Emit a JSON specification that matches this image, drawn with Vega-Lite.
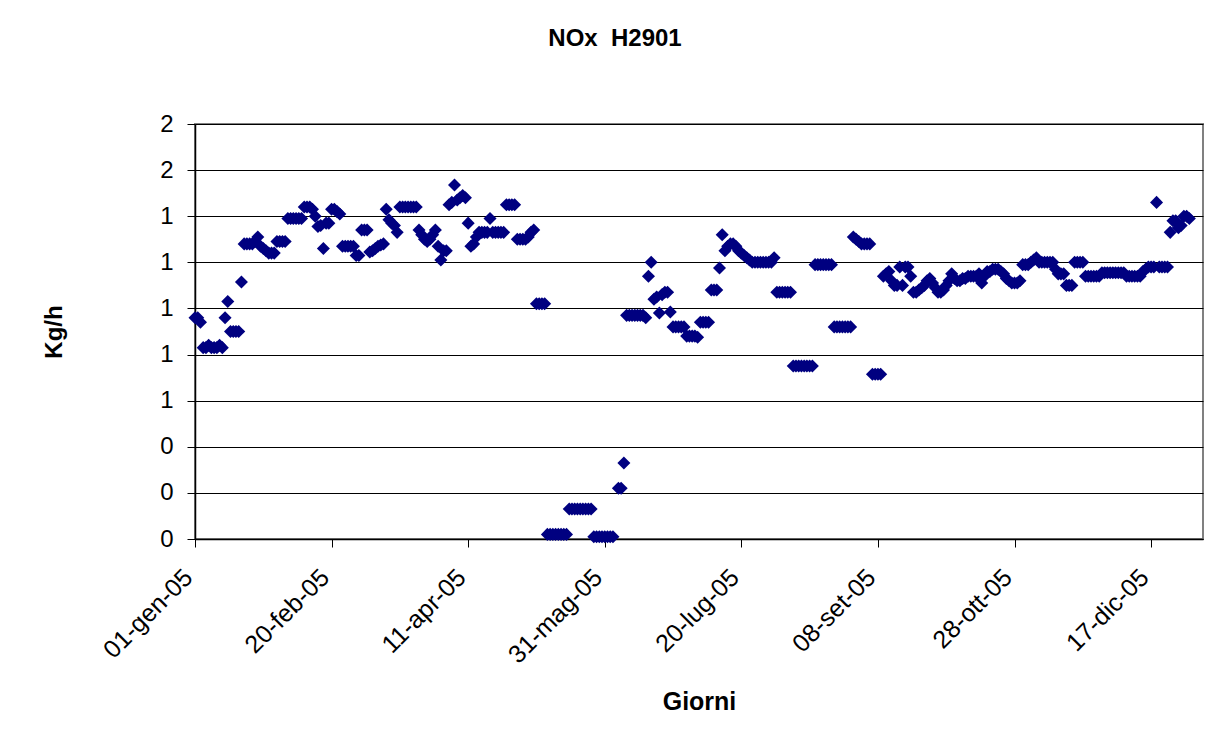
{
  "$schema": "https://vega.github.io/schema/vega-lite/v6.json",
  "width": 1008,
  "height": 415,
  "autosize": {"type": "none"},
  "padding": {"left": 195, "top": 124, "right": 4, "bottom": 204},
  "background": "white",
  "title": {
    "text": "NOx\u00a0\u00a0H2901",
    "font": "Liberation Sans",
    "fontSize": 24,
    "fontWeight": "bold",
    "color": "#000000",
    "anchor": "middle",
    "baseline": "alphabetic",
    "offset": 42,
    "dx": -84
  },
  "data": {
    "format": {"parse": {"d": "utc:'%Y-%m-%d'"}},
    "values": [
      {"d":"2005-01-01","v":0.96},{"d":"2005-01-02","v":0.96},{"d":"2005-01-03","v":0.94},{"d":"2005-01-04","v":0.83},{"d":"2005-01-05","v":0.83},{"d":"2005-01-06","v":0.84},{"d":"2005-01-07","v":0.83},{"d":"2005-01-08","v":0.83},{"d":"2005-01-09","v":0.83},{"d":"2005-01-10","v":0.84},{"d":"2005-01-11","v":0.83},{"d":"2005-01-12","v":0.96},{"d":"2005-01-13","v":1.03},{"d":"2005-01-14","v":0.9},{"d":"2005-01-15","v":0.9},{"d":"2005-01-16","v":0.9},{"d":"2005-01-17","v":0.9},{"d":"2005-01-18","v":1.115},{"d":"2005-01-19","v":1.28},{"d":"2005-01-20","v":1.28},{"d":"2005-01-21","v":1.28},{"d":"2005-01-22","v":1.28},{"d":"2005-01-23","v":1.29},{"d":"2005-01-24","v":1.31},{"d":"2005-01-25","v":1.27},{"d":"2005-01-26","v":1.26},{"d":"2005-01-27","v":1.25},{"d":"2005-01-28","v":1.24},{"d":"2005-01-29","v":1.24},{"d":"2005-01-30","v":1.24},{"d":"2005-01-31","v":1.29},
      {"d":"2005-02-01","v":1.29},{"d":"2005-02-02","v":1.29},{"d":"2005-02-03","v":1.29},{"d":"2005-02-04","v":1.39},{"d":"2005-02-05","v":1.39},{"d":"2005-02-06","v":1.39},{"d":"2005-02-07","v":1.39},{"d":"2005-02-08","v":1.39},{"d":"2005-02-09","v":1.39},{"d":"2005-02-10","v":1.44},{"d":"2005-02-11","v":1.44},{"d":"2005-02-12","v":1.44},{"d":"2005-02-13","v":1.43},{"d":"2005-02-14","v":1.4},{"d":"2005-02-15","v":1.355},{"d":"2005-02-16","v":1.36},{"d":"2005-02-17","v":1.26},{"d":"2005-02-18","v":1.37},{"d":"2005-02-19","v":1.37},{"d":"2005-02-20","v":1.43},{"d":"2005-02-21","v":1.43},{"d":"2005-02-22","v":1.42},{"d":"2005-02-23","v":1.41},{"d":"2005-02-24","v":1.27},{"d":"2005-02-25","v":1.27},{"d":"2005-02-26","v":1.27},{"d":"2005-02-27","v":1.27},{"d":"2005-02-28","v":1.27},
      {"d":"2005-03-01","v":1.23},{"d":"2005-03-02","v":1.23},{"d":"2005-03-03","v":1.34},{"d":"2005-03-04","v":1.34},{"d":"2005-03-05","v":1.34},{"d":"2005-03-06","v":1.245},{"d":"2005-03-07","v":1.25},{"d":"2005-03-08","v":1.26},{"d":"2005-03-09","v":1.27},{"d":"2005-03-10","v":1.275},{"d":"2005-03-11","v":1.28},{"d":"2005-03-12","v":1.43},{"d":"2005-03-13","v":1.385},{"d":"2005-03-14","v":1.37},{"d":"2005-03-15","v":1.36},{"d":"2005-03-16","v":1.33},{"d":"2005-03-17","v":1.44},{"d":"2005-03-18","v":1.44},{"d":"2005-03-19","v":1.44},{"d":"2005-03-20","v":1.44},{"d":"2005-03-21","v":1.44},{"d":"2005-03-22","v":1.44},{"d":"2005-03-23","v":1.44},{"d":"2005-03-24","v":1.34},{"d":"2005-03-25","v":1.32},{"d":"2005-03-26","v":1.3},{"d":"2005-03-27","v":1.29},{"d":"2005-03-28","v":1.3},{"d":"2005-03-29","v":1.32},{"d":"2005-03-30","v":1.34},{"d":"2005-03-31","v":1.27},
      {"d":"2005-04-01","v":1.21},{"d":"2005-04-02","v":1.25},{"d":"2005-04-03","v":1.25},{"d":"2005-04-04","v":1.45},{"d":"2005-04-05","v":1.46},{"d":"2005-04-06","v":1.535},{"d":"2005-04-07","v":1.47},{"d":"2005-04-08","v":1.48},{"d":"2005-04-09","v":1.49},{"d":"2005-04-10","v":1.48},{"d":"2005-04-11","v":1.37},{"d":"2005-04-12","v":1.27},{"d":"2005-04-13","v":1.28},{"d":"2005-04-14","v":1.31},{"d":"2005-04-15","v":1.33},{"d":"2005-04-16","v":1.33},{"d":"2005-04-17","v":1.33},{"d":"2005-04-18","v":1.33},{"d":"2005-04-19","v":1.39},{"d":"2005-04-20","v":1.33},{"d":"2005-04-21","v":1.33},{"d":"2005-04-22","v":1.33},{"d":"2005-04-23","v":1.33},{"d":"2005-04-24","v":1.33},{"d":"2005-04-25","v":1.45},{"d":"2005-04-26","v":1.45},{"d":"2005-04-27","v":1.45},{"d":"2005-04-28","v":1.45},{"d":"2005-04-29","v":1.3},{"d":"2005-04-30","v":1.3},
      {"d":"2005-05-01","v":1.3},{"d":"2005-05-02","v":1.3},{"d":"2005-05-03","v":1.31},{"d":"2005-05-04","v":1.33},{"d":"2005-05-05","v":1.34},{"d":"2005-05-06","v":1.02},{"d":"2005-05-07","v":1.02},{"d":"2005-05-08","v":1.02},{"d":"2005-05-09","v":1.02},{"d":"2005-05-10","v":0.02},{"d":"2005-05-11","v":0.02},{"d":"2005-05-12","v":0.02},{"d":"2005-05-13","v":0.02},{"d":"2005-05-14","v":0.02},{"d":"2005-05-15","v":0.02},{"d":"2005-05-16","v":0.02},{"d":"2005-05-17","v":0.02},{"d":"2005-05-18","v":0.13},{"d":"2005-05-19","v":0.13},{"d":"2005-05-20","v":0.13},{"d":"2005-05-21","v":0.13},{"d":"2005-05-22","v":0.13},{"d":"2005-05-23","v":0.13},{"d":"2005-05-24","v":0.13},{"d":"2005-05-25","v":0.13},{"d":"2005-05-26","v":0.13},{"d":"2005-05-27","v":0.01},{"d":"2005-05-28","v":0.01},{"d":"2005-05-29","v":0.01},{"d":"2005-05-30","v":0.01},{"d":"2005-05-31","v":0.01},
      {"d":"2005-06-01","v":0.01},{"d":"2005-06-02","v":0.01},{"d":"2005-06-03","v":0.01},{"d":"2005-06-05","v":0.22},{"d":"2005-06-06","v":0.22},{"d":"2005-06-07","v":0.33},{"d":"2005-06-08","v":0.97},{"d":"2005-06-09","v":0.97},{"d":"2005-06-10","v":0.97},{"d":"2005-06-11","v":0.97},{"d":"2005-06-12","v":0.97},{"d":"2005-06-13","v":0.97},{"d":"2005-06-14","v":0.97},{"d":"2005-06-15","v":0.96},{"d":"2005-06-16","v":1.14},{"d":"2005-06-17","v":1.2},{"d":"2005-06-18","v":1.04},{"d":"2005-06-19","v":1.05},{"d":"2005-06-20","v":0.98},{"d":"2005-06-21","v":1.06},{"d":"2005-06-22","v":1.07},{"d":"2005-06-23","v":1.07},{"d":"2005-06-24","v":0.985},{"d":"2005-06-25","v":0.92},{"d":"2005-06-26","v":0.92},{"d":"2005-06-27","v":0.92},{"d":"2005-06-28","v":0.92},{"d":"2005-06-29","v":0.92},{"d":"2005-06-30","v":0.88},
      {"d":"2005-07-01","v":0.88},{"d":"2005-07-02","v":0.88},{"d":"2005-07-03","v":0.88},{"d":"2005-07-04","v":0.875},{"d":"2005-07-05","v":0.94},{"d":"2005-07-06","v":0.94},{"d":"2005-07-07","v":0.94},{"d":"2005-07-08","v":0.94},{"d":"2005-07-09","v":1.08},{"d":"2005-07-10","v":1.08},{"d":"2005-07-11","v":1.08},{"d":"2005-07-12","v":1.175},{"d":"2005-07-13","v":1.32},{"d":"2005-07-14","v":1.25},{"d":"2005-07-15","v":1.27},{"d":"2005-07-16","v":1.28},{"d":"2005-07-17","v":1.28},{"d":"2005-07-18","v":1.27},{"d":"2005-07-19","v":1.25},{"d":"2005-07-20","v":1.24},{"d":"2005-07-21","v":1.23},{"d":"2005-07-22","v":1.22},{"d":"2005-07-23","v":1.21},{"d":"2005-07-24","v":1.2},{"d":"2005-07-25","v":1.2},{"d":"2005-07-26","v":1.2},{"d":"2005-07-27","v":1.2},{"d":"2005-07-28","v":1.2},{"d":"2005-07-29","v":1.2},{"d":"2005-07-30","v":1.2},{"d":"2005-07-31","v":1.2},
      {"d":"2005-08-01","v":1.22},{"d":"2005-08-02","v":1.07},{"d":"2005-08-03","v":1.07},{"d":"2005-08-04","v":1.07},{"d":"2005-08-05","v":1.07},{"d":"2005-08-06","v":1.07},{"d":"2005-08-07","v":1.07},{"d":"2005-08-08","v":0.75},{"d":"2005-08-09","v":0.75},{"d":"2005-08-10","v":0.75},{"d":"2005-08-11","v":0.75},{"d":"2005-08-12","v":0.75},{"d":"2005-08-13","v":0.75},{"d":"2005-08-14","v":0.75},{"d":"2005-08-15","v":0.75},{"d":"2005-08-16","v":1.19},{"d":"2005-08-17","v":1.19},{"d":"2005-08-18","v":1.19},{"d":"2005-08-19","v":1.19},{"d":"2005-08-20","v":1.19},{"d":"2005-08-21","v":1.19},{"d":"2005-08-22","v":1.19},{"d":"2005-08-23","v":0.92},{"d":"2005-08-24","v":0.92},{"d":"2005-08-25","v":0.92},{"d":"2005-08-26","v":0.92},{"d":"2005-08-27","v":0.92},{"d":"2005-08-28","v":0.92},{"d":"2005-08-29","v":0.92},{"d":"2005-08-30","v":1.31},{"d":"2005-08-31","v":1.3},
      {"d":"2005-09-01","v":1.29},{"d":"2005-09-02","v":1.28},{"d":"2005-09-03","v":1.28},{"d":"2005-09-04","v":1.28},{"d":"2005-09-05","v":1.28},{"d":"2005-09-06","v":0.715},{"d":"2005-09-07","v":0.715},{"d":"2005-09-08","v":0.715},{"d":"2005-09-09","v":0.715},{"d":"2005-09-10","v":1.14},{"d":"2005-09-11","v":1.15},{"d":"2005-09-12","v":1.16},{"d":"2005-09-13","v":1.12},{"d":"2005-09-14","v":1.1},{"d":"2005-09-15","v":1.1},{"d":"2005-09-16","v":1.18},{"d":"2005-09-17","v":1.1},{"d":"2005-09-18","v":1.18},{"d":"2005-09-19","v":1.18},{"d":"2005-09-20","v":1.14},{"d":"2005-09-21","v":1.07},{"d":"2005-09-22","v":1.07},{"d":"2005-09-23","v":1.08},{"d":"2005-09-24","v":1.09},{"d":"2005-09-25","v":1.1},{"d":"2005-09-26","v":1.12},{"d":"2005-09-27","v":1.13},{"d":"2005-09-28","v":1.11},{"d":"2005-09-29","v":1.09},{"d":"2005-09-30","v":1.07},
      {"d":"2005-10-01","v":1.07},{"d":"2005-10-02","v":1.08},{"d":"2005-10-03","v":1.1},{"d":"2005-10-04","v":1.12},{"d":"2005-10-05","v":1.15},{"d":"2005-10-06","v":1.13},{"d":"2005-10-07","v":1.12},{"d":"2005-10-08","v":1.12},{"d":"2005-10-09","v":1.13},{"d":"2005-10-10","v":1.13},{"d":"2005-10-11","v":1.14},{"d":"2005-10-12","v":1.14},{"d":"2005-10-13","v":1.14},{"d":"2005-10-14","v":1.14},{"d":"2005-10-15","v":1.15},{"d":"2005-10-16","v":1.11},{"d":"2005-10-17","v":1.14},{"d":"2005-10-18","v":1.16},{"d":"2005-10-19","v":1.16},{"d":"2005-10-20","v":1.17},{"d":"2005-10-21","v":1.17},{"d":"2005-10-22","v":1.17},{"d":"2005-10-23","v":1.16},{"d":"2005-10-24","v":1.15},{"d":"2005-10-25","v":1.13},{"d":"2005-10-26","v":1.12},{"d":"2005-10-27","v":1.11},{"d":"2005-10-28","v":1.11},{"d":"2005-10-29","v":1.11},{"d":"2005-10-30","v":1.12},{"d":"2005-10-31","v":1.19},
      {"d":"2005-11-01","v":1.19},{"d":"2005-11-02","v":1.19},{"d":"2005-11-03","v":1.2},{"d":"2005-11-04","v":1.21},{"d":"2005-11-05","v":1.22},{"d":"2005-11-06","v":1.2},{"d":"2005-11-07","v":1.2},{"d":"2005-11-08","v":1.2},{"d":"2005-11-09","v":1.2},{"d":"2005-11-10","v":1.2},{"d":"2005-11-11","v":1.2},{"d":"2005-11-12","v":1.17},{"d":"2005-11-13","v":1.15},{"d":"2005-11-14","v":1.15},{"d":"2005-11-15","v":1.15},{"d":"2005-11-16","v":1.1},{"d":"2005-11-17","v":1.1},{"d":"2005-11-18","v":1.1},{"d":"2005-11-19","v":1.2},{"d":"2005-11-20","v":1.2},{"d":"2005-11-21","v":1.2},{"d":"2005-11-22","v":1.2},{"d":"2005-11-23","v":1.14},{"d":"2005-11-24","v":1.14},{"d":"2005-11-25","v":1.14},{"d":"2005-11-26","v":1.14},{"d":"2005-11-27","v":1.14},{"d":"2005-11-28","v":1.14},{"d":"2005-11-29","v":1.155},{"d":"2005-11-30","v":1.155},
      {"d":"2005-12-01","v":1.155},{"d":"2005-12-02","v":1.155},{"d":"2005-12-03","v":1.155},{"d":"2005-12-04","v":1.155},{"d":"2005-12-05","v":1.155},{"d":"2005-12-06","v":1.155},{"d":"2005-12-07","v":1.155},{"d":"2005-12-08","v":1.14},{"d":"2005-12-09","v":1.14},{"d":"2005-12-10","v":1.14},{"d":"2005-12-11","v":1.14},{"d":"2005-12-12","v":1.14},{"d":"2005-12-13","v":1.14},{"d":"2005-12-14","v":1.16},{"d":"2005-12-15","v":1.17},{"d":"2005-12-16","v":1.18},{"d":"2005-12-17","v":1.18},{"d":"2005-12-18","v":1.18},{"d":"2005-12-19","v":1.46},{"d":"2005-12-20","v":1.18},{"d":"2005-12-21","v":1.18},{"d":"2005-12-22","v":1.18},{"d":"2005-12-23","v":1.18},{"d":"2005-12-24","v":1.33},{"d":"2005-12-25","v":1.38},{"d":"2005-12-26","v":1.38},{"d":"2005-12-27","v":1.35},{"d":"2005-12-28","v":1.36},{"d":"2005-12-29","v":1.4},{"d":"2005-12-30","v":1.4},{"d":"2005-12-31","v":1.39}
    ]
  },
  "mark": {"type": "point", "shape": "diamond", "filled": true, "size": 170, "color": "#000080", "opacity": 1},
  "encoding": {
    "x": {
      "field": "d",
      "type": "temporal",
      "scale": {"type": "utc", "domain": [{"year": 2005, "month": 1, "date": 1, "utc": true}, {"year": 2006, "month": 1, "date": 5, "utc": true}]},
      "axis": {
        "title": "Giorni",
        "values": [
          {"year": 2005, "month": 1, "date": 1, "utc": true},
          {"year": 2005, "month": 2, "date": 20, "utc": true},
          {"year": 2005, "month": 4, "date": 11, "utc": true},
          {"year": 2005, "month": 5, "date": 31, "utc": true},
          {"year": 2005, "month": 7, "date": 20, "utc": true},
          {"year": 2005, "month": 9, "date": 8, "utc": true},
          {"year": 2005, "month": 10, "date": 28, "utc": true},
          {"year": 2005, "month": 12, "date": 17, "utc": true}
        ],
        "labelExpr": "utcFormat(datum.value, '%d') + '-' + ['gen','feb','mar','apr','mag','giu','lug','ago','set','ott','nov','dic'][utcmonth(datum.value)] + '-' + utcFormat(datum.value, '%y')",
        "labelAngle": -45,
        "labelAlign": "right",
        "labelBaseline": "middle",
        "labelPadding": 26,
        "labelOffset": -7,
        "labelFlush": false,
        "labelOverlap": false,
        "labelBound": false,
        "grid": false,
        "tickSize": 8,
        "tickColor": "#000000",
        "domainColor": "#000000",
        "domainWidth": 1.5,
        "labelFont": "Liberation Sans",
        "labelFontSize": 25,
        "labelColor": "#000000",
        "titleFont": "Liberation Sans",
        "titleFontSize": 25,
        "titleFontWeight": "bold",
        "titleColor": "#000000",
        "titlePadding": 22
      }
    },
    "y": {
      "field": "v",
      "type": "quantitative",
      "scale": {"domain": [0, 1.8], "nice": false, "zero": true},
      "axis": {
        "title": "Kg/h",
        "values": [0, 0.2, 0.4, 0.6, 0.8, 1, 1.2, 1.4, 1.6, 1.8],
        "format": ".0f",
        "grid": true,
        "gridColor": "#000000",
        "gridWidth": 1,
        "gridOpacity": 1,
        "tickSize": 8,
        "tickColor": "#000000",
        "domainColor": "#000000",
        "domainWidth": 1.5,
        "labelPadding": 14,
        "labelFont": "Liberation Sans",
        "labelFontSize": 24,
        "labelColor": "#000000",
        "titleFont": "Liberation Sans",
        "titleFontSize": 24,
        "titleFontWeight": "bold",
        "titleColor": "#000000",
        "titlePadding": 93
      }
    }
  },
  "config": {
    "view": {"stroke": "#808080", "strokeWidth": 2},
    "axis": {"labelFlush": false}
  }
}
